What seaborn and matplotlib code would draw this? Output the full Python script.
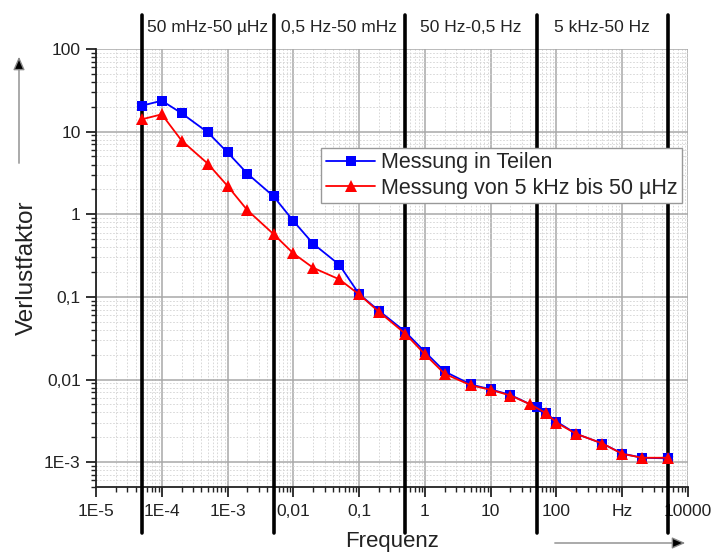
import numpy as np
import pandas as pd
import seaborn as sns
import matplotlib.pyplot as plt
from matplotlib.ticker import FixedLocator, FixedFormatter, LogLocator, NullFormatter
from matplotlib.transforms import blended_transform_factory
from matplotlib.patches import FancyArrowPatch

# Loss factor measured piecewise per range
freq_parts = [5e-5, 1e-4, 2e-4, 5e-4, 1e-3, 2e-3, 5e-3, 0.01, 0.02, 0.05, 0.1, 0.2,
              0.5, 1, 2, 5, 10, 20, 50, 70, 100, 200, 500, 1000, 2000, 5000]
loss_parts = [20.6, 23.7, 16.7, 9.8, 5.6, 3.1, 1.65, 0.83, 0.44, 0.245, 0.108, 0.068,
              0.038, 0.0216, 0.0125, 0.0087, 0.0076, 0.0065, 0.0046, 0.0039, 0.0031,
              0.0022, 0.00168, 0.00127, 0.00113, 0.00111]

# Loss factor measured in one sweep from 5 kHz down to 50 µHz
freq_sweep = [5e-5, 1e-4, 2e-4, 5e-4, 1e-3, 2e-3, 5e-3, 0.01, 0.02, 0.05, 0.1, 0.2,
              0.5, 1, 2, 5, 10, 20, 40, 70, 100, 200, 500, 1000, 2000, 5000]
loss_sweep = [14.1, 16.2, 7.8, 4.1, 2.2, 1.12, 0.575, 0.336, 0.225, 0.163, 0.107, 0.066,
              0.036, 0.0202, 0.0117, 0.0085, 0.0075, 0.0064, 0.0050, 0.0039, 0.0030,
              0.0022, 0.00168, 0.00126, 0.00113, 0.00113]

series_names = ["Messung in Teilen", "Messung von 5 kHz bis 50 µHz"]

# Range boundaries and range captions
range_edges = [5e-5, 5e-3, 0.5, 50, 5000]
range_centers = [5e-4, 5e-2, 5, 500]
range_labels = ["50 mHz-50 µHz", "0,5 Hz-50 mHz", "50 Hz-0,5 Hz", "5 kHz-50 Hz"]

x_ticks = [1e-5, 1e-4, 1e-3, 1e-2, 1e-1, 1, 10, 100, 1000, 10000]
x_ticklabels = ["1E-5", "1E-4", "1E-3", "0,01", "0,1", "1", "10", "100", "Hz", "10000"]
y_ticks = [1e-3, 1e-2, 1e-1, 1, 10, 100]
y_ticklabels = ["1E-3", "0,01", "0,1", "1", "10", "100"]

sns.set_style("white")
plt.rcParams["font.family"] = ["Liberation Sans", "DejaVu Sans"]

fig = plt.figure(figsize=(7.12, 5.53), dpi=100)
ax = fig.add_axes([96 / 712, 1 - 487 / 553, 592 / 712, 438 / 553])
ax.set_xscale("log")
ax.set_yscale("log")

df = pd.concat([
    pd.DataFrame({"f": freq_parts, "v": loss_parts, "s": series_names[0]}),
    pd.DataFrame({"f": freq_sweep, "v": loss_sweep, "s": series_names[1]}),
])

sns.lineplot(data=df[df.s == series_names[0]], x="f", y="v", ax=ax, color="#0000ff",
             marker="s", markersize=7, markeredgewidth=0, lw=1.3,
             estimator=None, sort=False, label=series_names[0], zorder=4)
sns.lineplot(data=df[df.s == series_names[1]], x="f", y="v", ax=ax, color="#ff0000",
             marker="^", markersize=8.5, markeredgewidth=0, lw=1.3,
             estimator=None, sort=False, label=series_names[1], zorder=5)

ax.set_xlim(1e-5, 1e4)
ax.set_ylim(5e-4, 100)

# Grid
ax.grid(True, which="major", color="#a8a8a8", lw=1.1, ls="-", zorder=0)
ax.grid(True, which="minor", color="#d2d2d2", lw=0.6, ls=(0, (2, 2)), zorder=0)
ax.set_axisbelow(True)

# Ticks
ax.xaxis.set_major_locator(FixedLocator(x_ticks))
ax.xaxis.set_major_formatter(FixedFormatter(x_ticklabels))
ax.yaxis.set_major_locator(FixedLocator(y_ticks))
ax.yaxis.set_major_formatter(FixedFormatter(y_ticklabels))
ax.xaxis.set_minor_locator(LogLocator(base=10, subs=np.arange(2, 10), numticks=30))
ax.yaxis.set_minor_locator(LogLocator(base=10, subs=np.arange(2, 10), numticks=30))
ax.xaxis.set_minor_formatter(NullFormatter())
ax.yaxis.set_minor_formatter(NullFormatter())
ax.tick_params(which="major", direction="out", length=7, width=1.3, labelsize=12.5,
               colors="#222222", pad=4, bottom=True, left=True)
ax.tick_params(which="minor", direction="out", length=3.5, width=1.0,
               colors="#222222", bottom=True, left=True)
ax.tick_params(axis="x", which="major", pad=5)

for side in ["top", "right"]:
    ax.spines[side].set_visible(False)
for side in ["left", "bottom"]:
    ax.spines[side].set_color("#222222")
    ax.spines[side].set_linewidth(1.3)

ax.set_xlabel("Frequenz", fontsize=16, color="#222222", va="center")
ax.xaxis.set_label_coords(0.5, (487 - 542) / 438)
ax.set_ylabel("Verlustfaktor", fontsize=17.5, color="#222222", va="center")
ax.yaxis.set_label_coords((27 - 96) / 592, 0.5)

# Range boundaries reaching beyond the plot area
trans = blended_transform_factory(ax.transData, ax.transAxes)
for fe in range_edges:
    ax.plot([fe, fe], [-0.105, 1.078], transform=trans, color="black", lw=2.6,
            clip_on=False, zorder=3)
for fc, txt in zip(range_centers, range_labels):
    ax.text(fc, 1.048, txt, transform=trans, ha="center", va="center",
            fontsize=12.5, color="#222222")

leg = ax.legend(loc="upper right", bbox_to_anchor=(0.99, 0.775), fontsize=15.5,
                frameon=True, fancybox=False, edgecolor="#999999", framealpha=1,
                handlelength=2.3, handletextpad=0.25, borderpad=0.22,
                labelspacing=0.2, borderaxespad=0)
leg.get_frame().set_linewidth(1.0)

# Direction arrows next to the axes
for start, end in [((19, 553 - 166), (19, 553 - 54)), ((552, 553 - 543), (688, 553 - 543))]:
    arr = FancyArrowPatch(start, end, transform=None,
                          arrowstyle="-|>,head_length=8,head_width=3.5",
                          lw=1.0, edgecolor="#888888", facecolor="black", mutation_scale=1)
    fig.patches.append(arr)

fig.savefig("out.png", dpi=100)
